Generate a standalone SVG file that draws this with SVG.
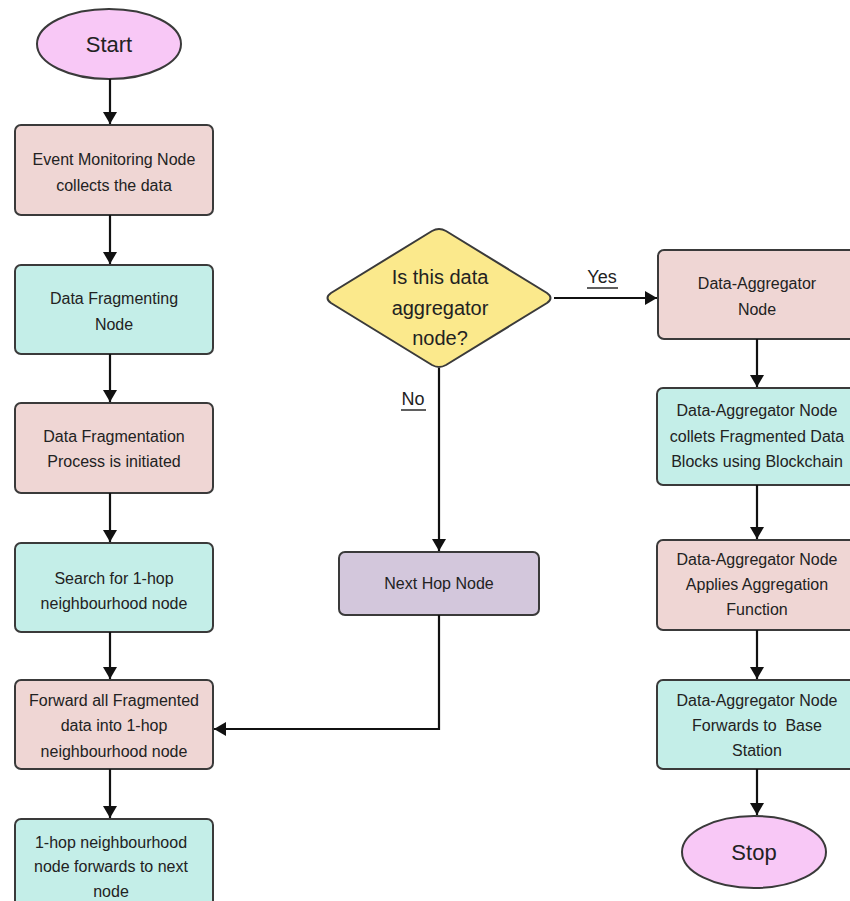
<svg xmlns="http://www.w3.org/2000/svg" width="850" height="901" viewBox="0 0 850 901">
<defs>
<marker id="ah" viewBox="0 0 12 14" refX="12" refY="7" markerWidth="12" markerHeight="14" markerUnits="userSpaceOnUse" orient="auto">
<path d="M0,0 L12,7 L0,14 Z" fill="#111"/>
</marker>
<style>
.n{stroke:#3a3a3a;stroke-width:2}
.pink{fill:#EFD6D4}
.cyan{fill:#C4EEE8}
.purp{fill:#D3C7DC}
.yel{fill:#FBE98C}
.ell{fill:#F8C8F6}
text{font-family:"Liberation Sans",Arial,sans-serif;fill:#222;text-anchor:middle}
.t{font-size:16px}
.big{font-size:22px}
.dt{font-size:20px}
.lbl{font-size:18px}
.c{fill:none;stroke:#111;stroke-width:2.2}
</style>
</defs>
<g id="start"><ellipse class="n ell" cx="109" cy="44" rx="72" ry="35"/><text class="big" x="109" y="52">Start</text></g>
<g id="n1"><rect class="n pink" x="15" y="125" width="198" height="90" rx="6"/><text class="t" x="114" y="165">Event Monitoring Node</text><text class="t" x="114" y="191">collects the data</text></g>
<g id="n2"><rect class="n cyan" x="15" y="265" width="198" height="89" rx="6"/><text class="t" x="114" y="304">Data Fragmenting</text><text class="t" x="114" y="330">Node</text></g>
<g id="n3"><rect class="n pink" x="15" y="403" width="198" height="90" rx="6"/><text class="t" x="114" y="442">Data Fragmentation</text><text class="t" x="114" y="467">Process is initiated</text></g>
<g id="n4"><rect class="n cyan" x="15" y="543" width="198" height="89" rx="6"/><text class="t" x="114" y="584">Search for 1-hop</text><text class="t" x="114" y="609">neighbourhood node</text></g>
<g id="n5"><rect class="n pink" x="15" y="680" width="198" height="89" rx="6"/><text class="t" x="114" y="706">Forward all Fragmented</text><text class="t" x="114" y="731">data into 1-hop</text><text class="t" x="114" y="757">neighbourhood node</text></g>
<g id="n6"><rect class="n cyan" x="15" y="819" width="198" height="95" rx="6"/><text class="t" x="111" y="848">1-hop neighbourhood</text><text class="t" x="111" y="872">node forwards to next</text><text class="t" x="111" y="897">node</text></g>
<g id="dec"><path class="n yel" d="M432,231 Q439,227 446,231 L547,293 Q554,298 547,303 L446,365 Q439,369 432,365 L331,303 Q324,298 331,293 Z"/><text class="dt" x="440" y="284">Is this data</text><text class="dt" x="440" y="315">aggregator</text><text class="dt" x="440" y="345">node?</text></g>
<g id="next"><rect class="n purp" x="339" y="552" width="200" height="63" rx="6"/><text class="t" x="439" y="589">Next Hop Node</text></g>
<g id="r1"><rect class="n pink" x="658" y="250" width="200" height="89" rx="6"/><text class="t" x="757" y="289">Data-Aggregator</text><text class="t" x="757" y="315">Node</text></g>
<g id="r2"><rect class="n cyan" x="657" y="388" width="200" height="97" rx="6"/><text class="t" x="757" y="416">Data-Aggregator Node</text><text class="t" x="757" y="442">collets Fragmented Data</text><text class="t" x="757" y="467">Blocks using Blockchain</text></g>
<g id="r3"><rect class="n pink" x="657" y="540" width="200" height="90" rx="6"/><text class="t" x="757" y="565">Data-Aggregator Node</text><text class="t" x="757" y="590">Applies Aggregation</text><text class="t" x="757" y="615">Function</text></g>
<g id="r4"><rect class="n cyan" x="657" y="680" width="200" height="89" rx="6"/><text class="t" x="757" y="706">Data-Aggregator Node</text><text class="t" x="757" y="731" style="white-space:pre">Forwards to  Base</text><text class="t" x="757" y="756">Station</text></g>
<g id="stop"><ellipse class="n ell" cx="754" cy="852" rx="72" ry="36"/><text class="big" x="754" y="860">Stop</text></g>
<g id="connectors">
<line class="c" x1="110" y1="79" x2="110" y2="124" marker-end="url(#ah)"/>
<line class="c" x1="110" y1="215" x2="110" y2="264" marker-end="url(#ah)"/>
<line class="c" x1="110" y1="354" x2="110" y2="402" marker-end="url(#ah)"/>
<line class="c" x1="110" y1="493" x2="110" y2="542" marker-end="url(#ah)"/>
<line class="c" x1="110" y1="632" x2="110" y2="679" marker-end="url(#ah)"/>
<line class="c" x1="110" y1="769" x2="110" y2="818" marker-end="url(#ah)"/>
<line class="c" x1="554" y1="298" x2="657" y2="298" marker-end="url(#ah)"/>
<line class="c" x1="439" y1="368" x2="439" y2="551" marker-end="url(#ah)"/>
<polyline class="c" points="439,615 439,729 214,729" marker-end="url(#ah)"/>
<line class="c" x1="757" y1="339" x2="757" y2="387" marker-end="url(#ah)"/>
<line class="c" x1="757" y1="485" x2="757" y2="539" marker-end="url(#ah)"/>
<line class="c" x1="757" y1="630" x2="757" y2="679" marker-end="url(#ah)"/>
<line class="c" x1="757" y1="769" x2="757" y2="815" marker-end="url(#ah)"/>
<text class="lbl" x="602" y="283">Yes</text><line x1="587" y1="288" x2="618" y2="288" stroke="#2a2a2a" stroke-width="1.5"/>
<text class="lbl" x="413" y="405">No</text><line x1="401" y1="410" x2="426" y2="410" stroke="#2a2a2a" stroke-width="1.5"/>
</g>
</svg>
